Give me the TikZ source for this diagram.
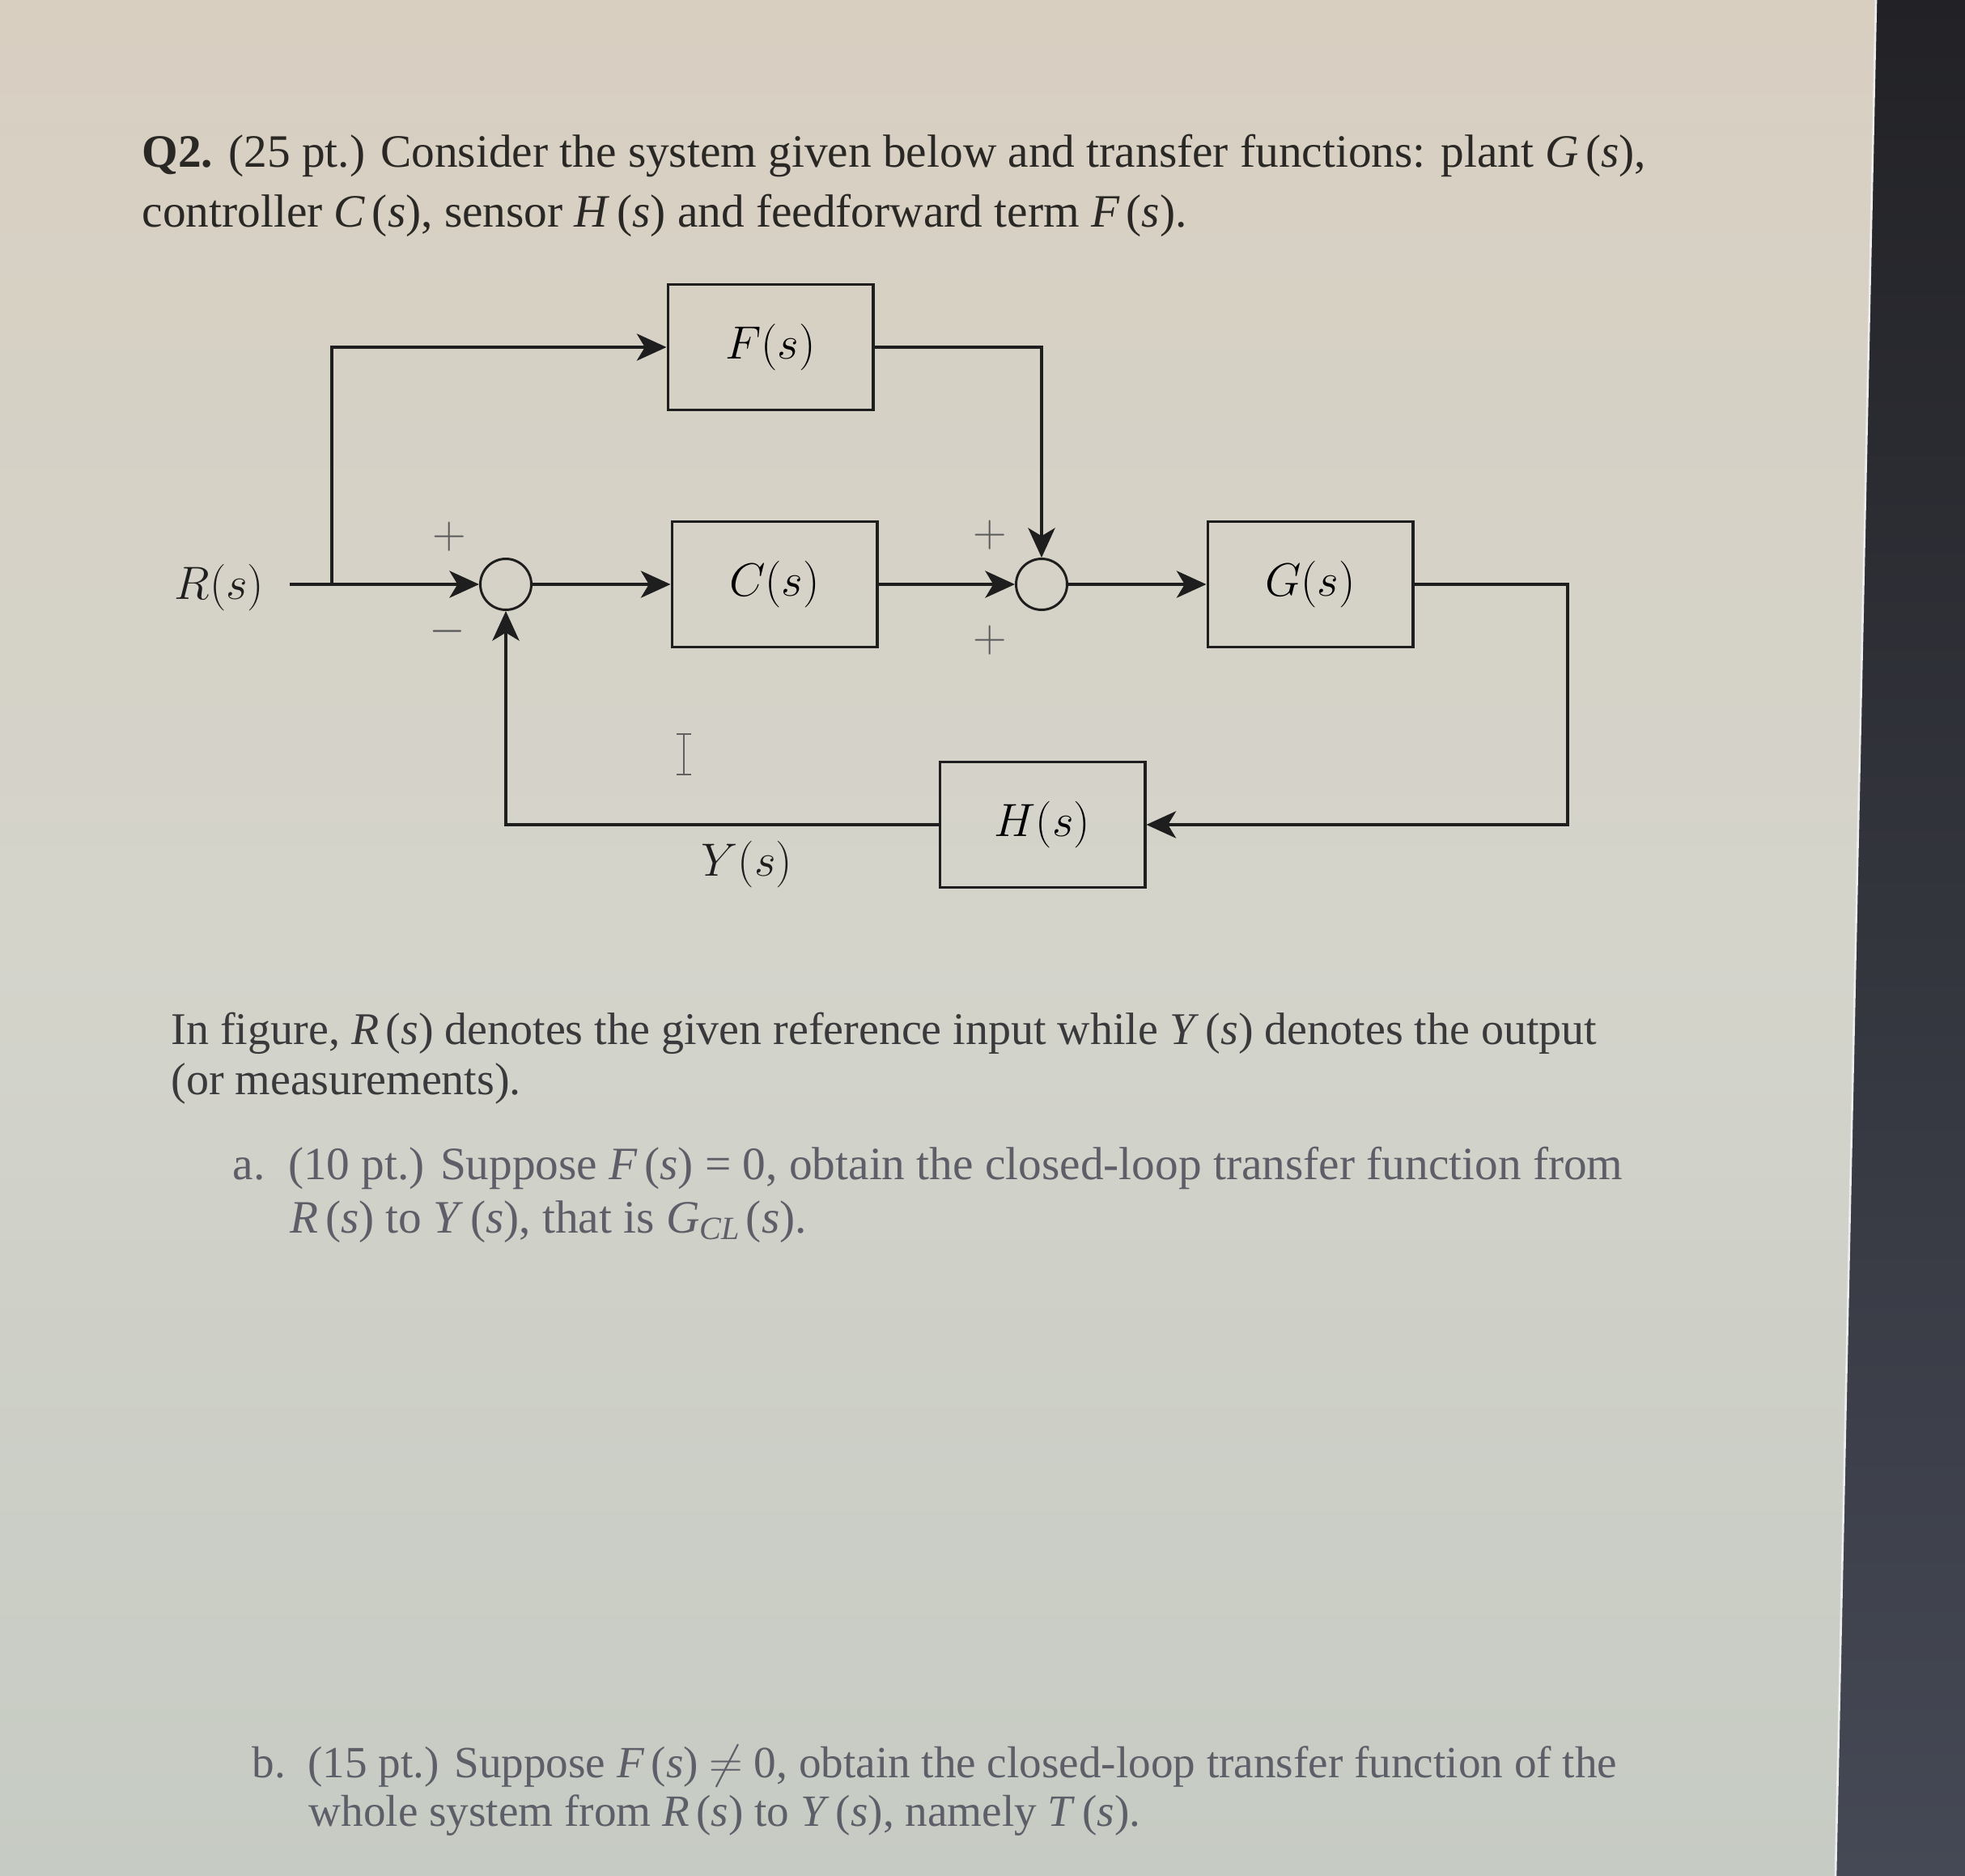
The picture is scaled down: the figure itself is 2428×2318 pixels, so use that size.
\documentclass[tikz,border=0pt]{standalone}
\usepackage{fontspec}
\setmainfont{Liberation Serif}
\usetikzlibrary{arrows.meta}
\definecolor{ink}{HTML}{1E1E1E}
\definecolor{txtA}{HTML}{2A2824}
\definecolor{txtB}{HTML}{3A3A3C}
\definecolor{txtC}{HTML}{5E5E68}
\definecolor{sgncol}{HTML}{5A5A5A}
\definecolor{bgtop}{HTML}{D8CFC1}
\definecolor{bgmid}{HTML}{D4D4CB}
\definecolor{bgbot}{HTML}{C6CBC3}
\definecolor{darktop}{HTML}{222226}
\definecolor{darkbot}{HTML}{454955}
\newcommand\tfn[1]{\textit{#1}\kern2.5pt(\textit{s})}
\begin{document}
\begin{tikzpicture}[x=0.3pt,y=-0.3pt,
  blk/.style={draw=ink, line width=1.1pt, minimum width=76pt, minimum height=46.5pt, inner sep=0pt, font=\fontsize{19}{22}\selectfont},
  sumc/.style={draw=ink, circle, line width=0.9pt, minimum size=18.9pt, inner sep=0pt},
  sig/.style={draw=ink, line width=1pt, -{Stealth[length=11pt,width=10pt,inset=3pt]}},
  wire/.style={draw=ink, line width=1pt},
  sgn/.style={text=sgncol, inner sep=0pt, font=\fontsize{18}{20}\selectfont},
  lbl/.style={text=ink, inner sep=0pt, font=\fontsize{18.5}{22}\selectfont},
  bodyA/.style={anchor=base west, inner sep=0pt, text=txtA, font=\fontsize{17.2}{20}\selectfont},
  bodyB/.style={anchor=base west, inner sep=0pt, text=txtB, font=\fontsize{16.8}{20}\selectfont},
  bodyC/.style={anchor=base west, inner sep=0pt, text=txtC, font=\fontsize{17.2}{20}\selectfont},
  bodyD/.style={anchor=base west, inner sep=0pt, text=txtC, font=\fontsize{16.55}{20}\selectfont}]
% background
\useasboundingbox (0,0) rectangle (2428,2318);
\shade[top color=bgtop, bottom color=bgbot, middle color=bgmid] (0,0) rectangle (2428,2318);
\shade[top color=darktop, bottom color=darkbot] (2318,0) -- (2428,0) -- (2428,2318) -- (2268,2318) -- cycle;
\draw[white!85!gray, line width=0.8pt] (2318,0) -- (2268,2318);
% header text
\node[bodyA] (t1) at (175,206) {\textbf{Q2.} (25 pt.) Consider the system given below and transfer functions: plant \tfn{G},};
\node[bodyA] (t2) at (175,280) {controller \tfn{C}, sensor \tfn{H} and feedforward term \tfn{F}.};
% diagram
\node[blk] (F) at (952,429) {$F(s)$};
\node[blk] (C) at (957,722) {$C(s)$};
\node[blk] (G) at (1619,722) {$G(s)$};
\node[blk] (H) at (1288,1019) {$H(s)$};
\node[sumc] (s1) at (625,722) {};
\node[sumc] (s2) at (1287,722) {};
\node[lbl] (R) at (271,726) {$R(s)$};
\node[lbl] (Y) at (923,1068) {$Y(s)$};
\coordinate (rin) at (358,722);
\coordinate (br) at (410,722);
\coordinate (gc) at (1937,1019);
\draw[sig] (rin) -- (s1);
\draw[sig] (br) |- (F.west);
\draw[sig] (F.east) -| (s2.north);
\draw[sig] (s1) -- (C);
\draw[sig] (C) -- (s2);
\draw[sig] (s2) -- (G);
\draw[sig] (G.east) -| (gc) -- (H.east);
\draw[sig] (H.west) -| (s1.south);
\node[sgn] (p1) at (555,663) {$+$};
\node[sgn] (m1) at (553,780) {$-$};
\node[sgn] (p2) at (1223,661) {$+$};
\node[sgn] (p3) at (1223,791) {$+$};
% text cursor
\draw[ink!70, line width=0.7pt] (845,908) -- (845,956) (836,907) -- (854,907) (836,957) -- (854,957);
% lower text
\node[bodyB] (t3) at (211,1290) {In figure, \tfn{R} denotes the given reference input while \tfn{Y} denotes the output};
\node[bodyB] (t4) at (211,1352) {(or measurements).};
\node[bodyC] (t5) at (287,1457) {a.\ \ (10 pt.) Suppose \tfn{F} = 0, obtain the closed-loop transfer function from};
\node[bodyC] (t6) at (358,1523) {\tfn{R} to \tfn{Y}, that is \textit{G}\textsubscript{\textit{CL}}\kern2pt(\textit{s}).};
\node[bodyD] (t7) at (311,2196) {b.\ \ (15 pt.) Suppose \tfn{F} $\neq$ 0, obtain the closed-loop transfer function of the};
\node[bodyD] (t8) at (381,2256) {whole system from \tfn{R} to \tfn{Y}, namely \tfn{T}.};
\end{tikzpicture}
\end{document}
